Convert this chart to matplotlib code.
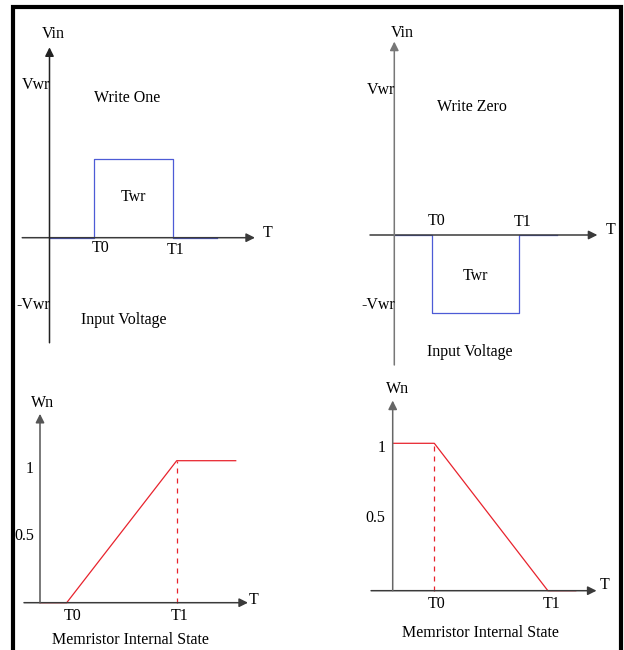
import matplotlib
matplotlib.use("Agg")
import matplotlib.pyplot as plt
from matplotlib.lines import Line2D

plt.rcParams['font.family'] = ['Liberation Serif', 'DejaVu Serif']
FS = 11.5
W, H = 624, 650

# --- schematic data (arbitrary units) ---
# write one: input pulse and internal state
one_t = [0, 1.0, 1.0, 2.8, 2.8, 3.8]
one_v = [0, 0, 1, 1, 0, 0]
one_state_t = [0, 1.0, 5.12, 7.33]
one_state_w = [0, 0, 1, 1]

# write zero
zero_t = [0, 1.0, 1.0, 3.34, 3.34, 4.34]
zero_v = [0, 0, -1, -1, 0, 0]
zero_state_t = [0, 1.0, 3.73, 4.4]
zero_state_w = [1, 1, 0, 0]

vin_labels = ["Vwr", "-Vwr"]
one_vin_ticks = [1.93, -0.85]
zero_vin_ticks = [1.85, -0.89]
wn_labels = ["1", "0.5"]
one_wn_ticks = [0.94, 0.47]
zero_wn_ticks = [0.97, 0.49]

BLUE = "#4d5bd6"
RED = "#e8232d"
AX = "#3a3a3a"

fig = plt.figure(figsize=(W / 100, H / 100), dpi=100)


def panel(ox, oy, sx, sy):
    # axes spanning the figure, data origin at pixel (ox, oy), sx/sy px per unit
    ax = fig.add_axes([0, 0, 1, 1])
    ax.set_xlim(-ox / sx, (W - ox) / sx)
    ax.set_ylim(-(H - oy) / sy, oy / sy)
    ax.axis('off')
    return ax


def arrow_axes(ax, x0, x1, y0, y1, vcol=AX):
    ax.annotate('', xy=(x1, 0), xytext=(x0, 0),
                arrowprops=dict(arrowstyle='-|>', color=AX, lw=1.1,
                                mutation_scale=13, shrinkA=0, shrinkB=0))
    ax.annotate('', xy=(0, y1), xytext=(0, y0),
                arrowprops=dict(arrowstyle='-|>', color=vcol, lw=1.1,
                                mutation_scale=13, shrinkA=0, shrinkB=0))


def txt(ax, x, y, s, dx=0, dy=0, ha='center', va='center'):
    ax.annotate(s, xy=(x, y), xytext=(dx, dy), textcoords='offset pixels',
                ha=ha, va=va, fontsize=FS)


# ---------------- Write One: input voltage ----------------
a1 = panel(49.5, 237.7, 44, 79)
arrow_axes(a1, -0.62, 4.67, -1.33, 2.41, vcol="#222222")
a1.plot(one_t, one_v, color=BLUE, lw=0.9)
txt(a1, 0, 2.41, "Vin", dx=4, dy=13)
txt(a1, 4.67, 0, "T", dx=13, dy=5)
txt(a1, one_t[1], 0, "T0", dx=7, dy=-10)
txt(a1, one_t[3], 0, "T1", dx=3, dy=-12)
txt(a1, (one_t[1] + one_t[3]) / 2, 0.5, "Twr", dy=1)
for lab, v in zip(vin_labels, one_vin_ticks):
    txt(a1, 0, v, lab, dx=1, ha='right')
fig.text(127 / W, 1 - 98 / H, "Write One", ha='center', va='center', fontsize=FS)
fig.text(124 / W, 1 - 320 / H, "Input Voltage", ha='center', va='center', fontsize=FS)

# ---------------- Write Zero: input voltage ----------------
a2 = panel(394.3, 235, 37.4, 78.3)
arrow_axes(a2, -0.65, 5.43, -1.66, 2.47, vcol="#777777")
a2.plot(zero_t, zero_v, color=BLUE, lw=0.9)
txt(a2, 0, 2.47, "Vin", dx=8, dy=9)
txt(a2, 5.43, 0, "T", dx=13, dy=5)
txt(a2, zero_t[1], 0, "T0", dx=5, dy=14)
txt(a2, zero_t[3], 0, "T1", dx=3, dy=13)
txt(a2, (zero_t[1] + zero_t[3]) / 2, -0.5, "Twr", dy=-2)
for lab, v in zip(vin_labels, zero_vin_ticks):
    txt(a2, 0, v, lab, dx=1, ha='right')
fig.text(472 / W, 1 - 107 / H, "Write Zero", ha='center', va='center', fontsize=FS)
fig.text(470 / W, 1 - 352 / H, "Input Voltage", ha='center', va='center', fontsize=FS)

# ---------------- Write One: internal state ----------------
a3 = panel(40, 602.7, 26.7, 142)
arrow_axes(a3, -0.6, 7.79, 0, 1.33, vcol="#555555")
a3.plot(one_state_t, one_state_w, color=RED, lw=0.9)
a3.plot([one_state_t[2]] * 2, [0, one_state_w[2]], color=RED, lw=0.9,
        ls=(0, (4, 4)))
txt(a3, 0, 1.33, "Wn", dx=3, dy=11)
txt(a3, 7.79, 0, "T", dx=6, dy=3)
txt(a3, one_state_t[1], 0, "T0", dx=6, dy=-13)
txt(a3, one_state_t[2], 0, "T1", dx=3, dy=-13)
for lab, v in zip(wn_labels, one_wn_ticks):
    txt(a3, 0, v, lab, dx=-6, ha='right')
fig.text(130 / W, 1 - 640 / H, "Memristor Internal State", ha='center', va='center',
         fontsize=FS)

# ---------------- Write Zero: internal state ----------------
a4 = panel(392.7, 590.7, 41.6, 147.4)
arrow_axes(a4, -0.52, 4.9, 0, 1.29, vcol="#666666")
a4.plot(zero_state_t, zero_state_w, color=RED, lw=0.9)
a4.plot([zero_state_t[1]] * 2, [0, zero_state_w[1]], color=RED, lw=0.9,
        ls=(0, (4, 4)))
txt(a4, 0, 1.29, "Wn", dx=5, dy=12)
txt(a4, 4.9, 0, "T", dx=8, dy=6)
txt(a4, zero_state_t[1], 0, "T0", dx=2, dy=-13)
txt(a4, zero_state_t[2], 0, "T1", dx=4, dy=-13)
for lab, v in zip(wn_labels, zero_wn_ticks):
    txt(a4, 0, v, lab, dx=-7, ha='right')
fig.text(480 / W, 1 - 633 / H, "Memristor Internal State", ha='center', va='center',
         fontsize=FS)

# black frame around the figure (open at the bottom)
fig.add_artist(Line2D([13 / W, 13 / W, 621 / W, 621 / W],
                      [0, 1 - 7 / H, 1 - 7 / H, 0],
                      transform=fig.transFigure, color='black', lw=3,
                      solid_joinstyle='miter'))

fig.savefig("out.png", dpi=100)
